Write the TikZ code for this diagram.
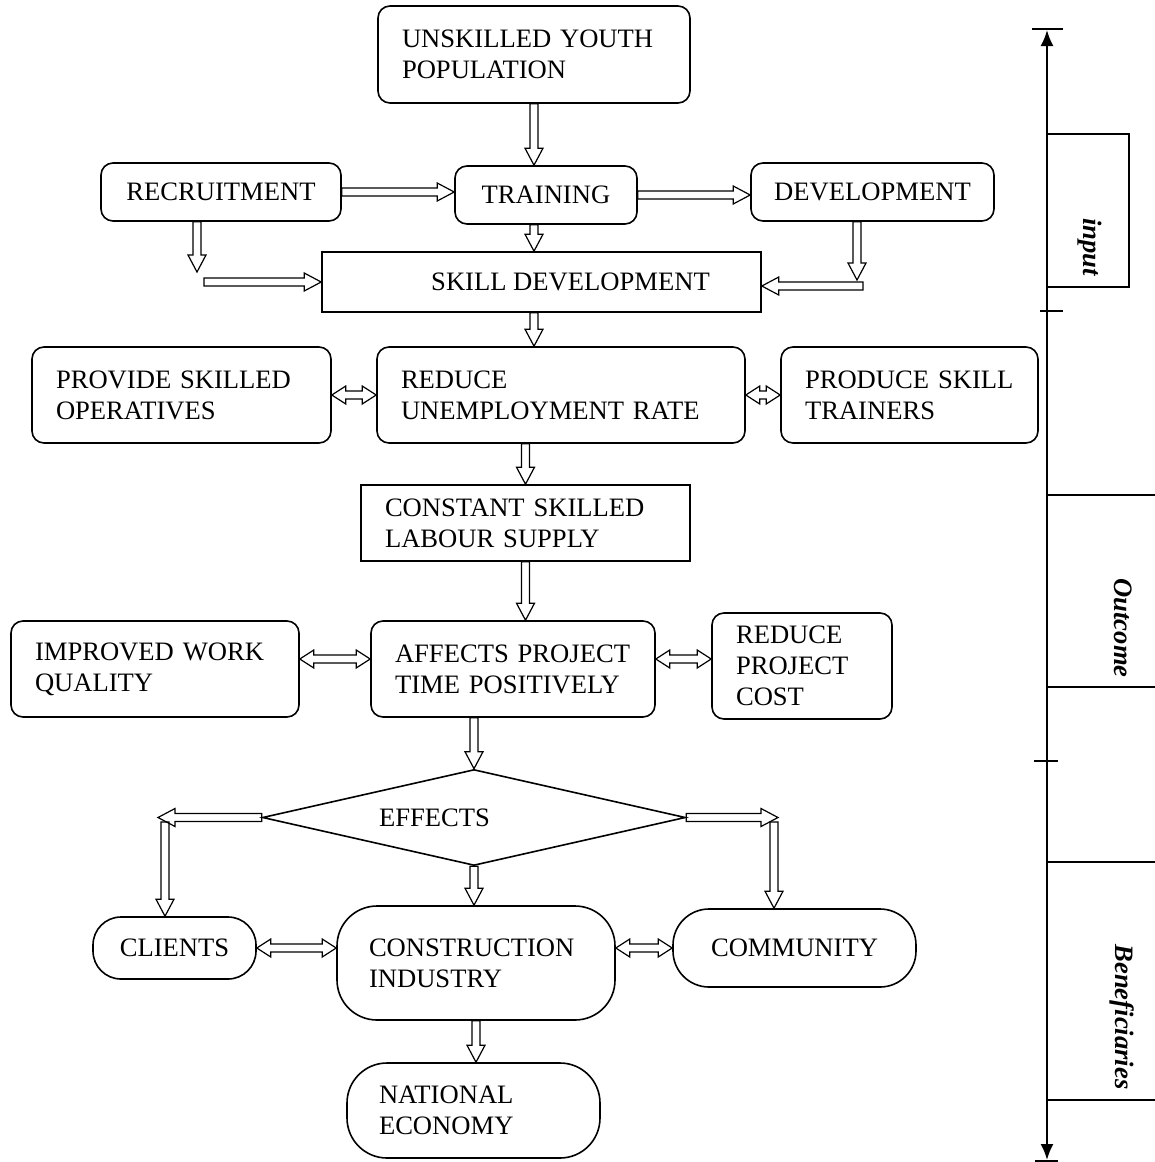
\documentclass[tikz,border=0pt]{standalone}
\usepackage{fontspec}
\setmainfont{Liberation Serif}
\usetikzlibrary{positioning}
\usetikzlibrary{calc}
\usetikzlibrary{shapes.geometric}
\usetikzlibrary{arrows.meta}

\begin{document}
\begin{tikzpicture}
    [x=1pt, y=-1pt, line width=1.6pt,
      every node/.style={font=\fontsize{26.6}{31}\selectfont},
      box/.style={draw, rectangle, rounded corners=12pt, inner sep=0pt},
      sbox/.style={draw, rectangle, inner sep=0pt}, % square corners
      oval/.style={draw, rectangle, rounded corners=#1, inner sep=0pt},
      multi/.style={align=left, inner xsep=24pt, text width=#1},
      side/.style={rotate=-90, font=\fontsize{26.6}{31}\selectfont\bfseries\itshape},
      % hollow block arrows
      fat/.style={draw, line width=1.2pt, to path={
        let \p1=(\tikztostart), \p2=(\tikztotarget),
            \n1={atan2(\y2-\y1,\x2-\x1)} in
        ($(\p1)+(\n1+90:4pt)$) -- ($(\p2)+(\n1+180:17pt)+(\n1+90:4pt)$)
        -- ($(\p2)+(\n1+180:17pt)+(\n1+90:9pt)$) -- (\p2)
        -- ($(\p2)+(\n1+180:17pt)+(\n1-90:9pt)$)
        -- ($(\p2)+(\n1+180:17pt)+(\n1-90:4pt)$)
        -- ($(\p1)+(\n1-90:4pt)$) -- cycle}},
      fatboth/.style={draw, line width=1.2pt, to path={
        let \p1=(\tikztostart), \p2=(\tikztotarget),
            \n1={atan2(\y2-\y1,\x2-\x1)} in
        (\p1) -- ($(\p1)+(\n1:14pt)+(\n1+90:9pt)$) -- ($(\p1)+(\n1:14pt)+(\n1+90:4pt)$)
        -- ($(\p2)+(\n1+180:14pt)+(\n1+90:4pt)$) -- ($(\p2)+(\n1+180:14pt)+(\n1+90:9pt)$)
        -- (\p2) -- ($(\p2)+(\n1+180:14pt)+(\n1-90:9pt)$) -- ($(\p2)+(\n1+180:14pt)+(\n1-90:4pt)$)
        -- ($(\p1)+(\n1:14pt)+(\n1-90:4pt)$) -- ($(\p1)+(\n1:14pt)+(\n1-90:9pt)$) -- cycle}},
     ]
    \useasboundingbox (0,0) rectangle (1155,1162);

    % input
    \node[box, multi=264pt, minimum height=97pt] (unsk) at (534,54.5) {UNSKILLED YOUTH\\POPULATION};
    \node[box, minimum width=240pt, minimum height=58pt] (recr) at (221,192) {RECRUITMENT};
    \node[box, minimum width=182pt, minimum height=58pt] (train) at (546,195) {TRAINING};
    \node[box, minimum width=243pt, minimum height=58pt] (devel) at (872.5,192) {DEVELOPMENT};
    \node[sbox, minimum width=439pt, minimum height=60pt] (skill) at (541.5,282) {\hspace*{58pt}SKILL DEVELOPMENT};

    % outcome
    \node[box, multi=251pt, minimum height=96pt] (prov) at (181.5,395) {PROVIDE SKILLED\\OPERATIVES};
    \node[box, multi=320pt, minimum height=96pt] (redu) at (561,395) {REDUCE\\UNEMPLOYMENT RATE};
    \node[box, multi=209pt, minimum height=96pt] (prod) at (909.5,395) {PRODUCE SKILL\\TRAINERS};
    \node[sbox, multi=281pt, minimum height=76pt] (const) at (525.5,523) {CONSTANT SKILLED\\LABOUR SUPPLY};
    \node[box, multi=240pt, minimum height=96pt] (impr) at (155,669) {IMPROVED WORK\\QUALITY};
    \node[box, multi=236pt, minimum height=96pt] (affe) at (513,669) {AFFECTS PROJECT\\TIME POSITIVELY};
    \node[box, multi=132pt, minimum height=106pt] (cost) at (802,666) {REDUCE\\PROJECT\\COST};

    % beneficiaries
    \node[diamond, draw, shape aspect=4.4, minimum width=423pt, minimum height=96pt,
          inner sep=0pt, text width=190pt, align=left] (eff) at (474,817.5) {EFFECTS};
    \node[oval=28pt, minimum width=163pt, minimum height=62pt] (clie) at (174.5,948) {CLIENTS};
    \node[oval=40pt, multi=214pt, inner xsep=32pt, minimum height=114pt] (cons) at (476,963) {CONSTRUCTION\\INDUSTRY};
    \node[oval=36pt, minimum width=243pt, minimum height=78pt] (comm) at (794.5,948) {COMMUNITY};
    \node[oval=40pt, multi=189pt, inner xsep=32pt, minimum height=95pt] (nati) at (473.5,1110.5) {NATIONAL\\ECONOMY};

    % connectors
    \coordinate (rk) at (197,272);
    \coordinate (rh) at (204,282);
    \coordinate (dk) at (857,280);
    \coordinate (dh) at (863,286);
    \coordinate (iq) at ([yshift=10pt]impr.east);
    \coordinate (ac) at ([yshift=10pt]affe.east);
    \coordinate (ek) at (158,817.5);
    \coordinate (ev) at (165,822);
    \coordinate (ck) at (778,817.5);
    \coordinate (cv) at (774,822);

    \draw[fat] (unsk.south) to (unsk.south |- train.north);
    \draw[fat] (recr.east) to (recr.east -| train.west);
    \draw[fat] (train.east) to (train.east -| devel.west);
    \draw[fat] (train.south -| unsk.south) to (skill.north -| unsk.south);
    \draw[fat] (recr.south -| rk) to (rk);
    \draw[fat] (rh) to (rh -| skill.west);
    \draw[fat] (devel.south -| dk) to (dk);
    \draw[fat] (dh) to (dh -| skill.east);
    \draw[fat] (skill.south -| unsk.south) to (redu.north -| unsk.south);
    \draw[fatboth] (prov.east) to (redu.west);
    \draw[fatboth] (redu.east) to (prod.west);
    \draw[fat] (redu.south -| const) to (const.north);
    \draw[fat] (const.south) to (const.south |- affe.north);
    \draw[fatboth] (iq) to (iq -| affe.west);
    \draw[fatboth] (ac) to (ac -| cost.west);
    \draw[fat] (affe.south -| eff) to (eff.north);
    \draw[fat] (eff.west) to (ek);
    \draw[fat] (ev) to (ev |- clie.north);
    \draw[fat] (eff.east) to (ck);
    \draw[fat] (cv) to (cv |- comm.north);
    \draw[fat] (eff.south) to (eff.south |- cons.north);
    \draw[fatboth] (clie.east) to (clie.east -| cons.west);
    \draw[fatboth] (comm.west -| cons.east) to (comm.west);
    \draw[fat] (cons.south) to (cons.south |- nati.north);

    % scale on the right
    \coordinate (stop) at (1047,30);
    \coordinate (sbot) at (1047,1160);
    \draw[line width=2pt, {Latex[length=16pt,width=13pt]}-{Latex[length=16pt,width=13pt]}] (stop) -- (sbot);
    \draw (1032,29) -- (1063,29);
    \draw (1035,1161) -- (1058,1161);
    \draw (1040,311) -- (1063,311);
    \draw (1034,761) -- (1058,761);
    \draw (1047,134) rectangle (1129,287);
    \draw (1047,495) -- (1155,495);
    \draw (1047,687) -- (1155,687);
    \draw (1047,862) -- (1155,862);
    \draw (1047,1100) -- (1155,1100);
    \node[side] (inp) at (1090,247) {input};
    \node[side] (outc) at (1123,628) {Outcome};
    \node[side] (bene) at (1122,1017) {Beneficiaries};
\end{tikzpicture}
\end{document}
